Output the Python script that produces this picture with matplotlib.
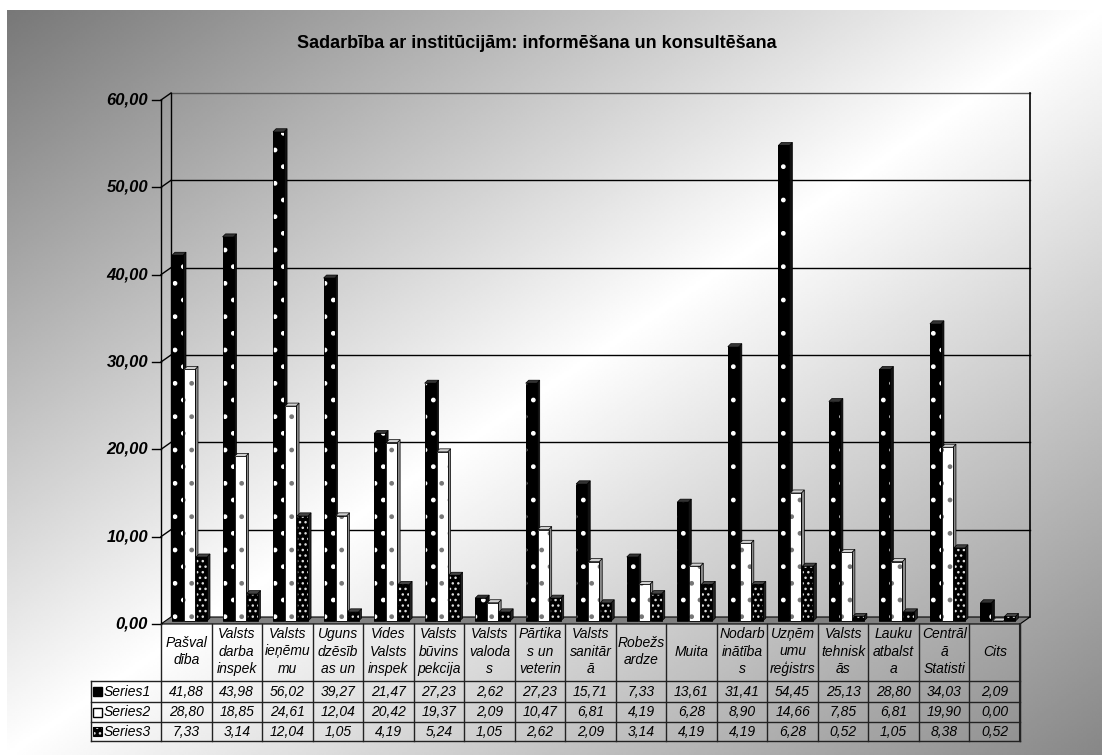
import matplotlib.pyplot as plt
import numpy as np
from matplotlib.patches import Polygon, Rectangle

title = "Sadarbība ar institūcijām: informēšana un konsultēšana"
categories = ["Pašval\ndība", "Valsts\ndarba\ninspek", "Valsts\nieņēmu\nmu",
              "Uguns\ndzēsīb\nas un", "Vides\nValsts\ninspek", "Valsts\nbūvins\npekcija",
              "Valsts\nvaloda\ns", "Pārtika\ns un\nveterin", "Valsts\nsanitār\nā",
              "Robežs\nardze", "Muita", "Nodarb\ninātība\ns", "Uzņēm\numu\nreģistrs",
              "Valsts\ntehnisk\nās", "Lauku\natbalst\na", "Centrāl\nā\nStatisti", "Cits"]
series_names = ["Series1", "Series2", "Series3"]
series1 = [41.88, 43.98, 56.02, 39.27, 21.47, 27.23, 2.62, 27.23, 15.71, 7.33,
           13.61, 31.41, 54.45, 25.13, 28.80, 34.03, 2.09]
series2 = [28.80, 18.85, 24.61, 12.04, 20.42, 19.37, 2.09, 10.47, 6.81, 4.19,
           6.28, 8.90, 14.66, 7.85, 6.81, 19.90, 0.00]
series3 = [7.33, 3.14, 12.04, 1.05, 4.19, 5.24, 1.05, 2.62, 2.09, 3.14,
           4.19, 4.19, 6.28, 0.52, 1.05, 8.38, 0.52]
yticks = [0, 10, 20, 30, 40, 50, 60]

plt.rcParams['font.family'] = ['Liberation Sans', 'DejaVu Sans']
plt.rcParams['hatch.linewidth'] = 1.0

W, H = 1102, 755
fig = plt.figure(figsize=(W / 100, H / 100), dpi=100)

# background gradient (dark corners top-left / bottom-right, light diagonal)
bg = fig.add_axes([7 / W, 0, 1 - 7 / W, 1 - 10 / H])
bg.set_axis_off()
X, Y = np.meshgrid(np.linspace(0, 1, 500), np.linspace(0, 1, 350))
u = X + Y
shade = np.where(u < 1, 0.47 + 0.53 * u, 1 - 0.47 * (u - 1))
bg.imshow(shade, cmap='gray', vmin=0, vmax=1, aspect='auto', interpolation='bilinear')

# main axes = plane of the bars
left, right, bot, top = 167, 1026, 621, 97
ax = fig.add_axes([left / W, 1 - bot / H, (right - left) / W, (bot - top) / H])
n = len(categories)
ax.set_xlim(0, n)
ax.set_ylim(0, 60)
ax.set_axis_off()
sx = n / (right - left)   # data units per pixel
sy = 60 / (bot - top)

bx, by = 4 * sx, 4 * sy      # back wall offset
fx, fy = -6 * sx, -3 * sy    # front edge offset

# back wall grid
for v in yticks[1:]:
    ax.plot([bx, n + bx], [v + by, v + by], color='#555555' if v == 60 else 'black',
            lw=1.0, clip_on=False, zorder=1)
    ax.plot([fx, bx], [v + fy, v + by], color='black', lw=1.0, clip_on=False, zorder=1)
ax.plot([bx, bx], [by, 60 + by], color='black', lw=1.0, clip_on=False, zorder=1)
ax.plot([n + bx, n + bx], [by, 60 + by], color='black', lw=1.2, clip_on=False, zorder=1)

# floor
floor = Polygon([(fx, fy), (n + fx, fy), (n + bx, by), (bx, by)], closed=True,
                facecolor='#808080', edgecolor='black', lw=0.8, clip_on=False, zorder=2)
ax.add_patch(floor)

# front value axis
ax.plot([fx, fx], [fy, 60 + fy], color='black', lw=1.0, clip_on=False, zorder=2)
for v in yticks:
    ax.plot([fx - 9 * sx, fx], [v + fy, v + fy], color='black', lw=1.0, clip_on=False)
    ax.text(fx - 13 * sx, v + fy, f"{v:.2f}".replace('.', ','), ha='right', va='center',
            fontsize=12, fontweight='bold', style='italic')

# bars with a little 3D depth
offsets = [5 * sx, 17 * sx, 29 * sx]
bw = 11 * sx
ddx, ddy = 3 * sx, 3 * sy
styles = [
    dict(face='black', hatch='.', hcol='white', side='#111111', top='#333333'),
    dict(face='white', hatch='.', hcol='#777777', side='#8a8a8a', top='#d0d0d0'),
    dict(face='black', hatch='...', hcol='#dddddd', side='#222222', top='#444444'),
]
for s, vals in enumerate([series1, series2, series3]):
    st = styles[s]
    z = 3 + s
    for i, v in enumerate(vals):
        x0 = i + offsets[s]
        ax.add_patch(Polygon([(x0 + bw, 0), (x0 + bw + ddx, ddy), (x0 + bw + ddx, v + ddy), (x0 + bw, v)],
                             closed=True, facecolor=st['side'], edgecolor='black', lw=0.5,
                             clip_on=False, zorder=z))
        ax.add_patch(Polygon([(x0, v), (x0 + bw, v), (x0 + bw + ddx, v + ddy), (x0 + ddx, v + ddy)],
                             closed=True, facecolor=st['top'], edgecolor='black', lw=0.5,
                             clip_on=False, zorder=z))
        ax.add_patch(Rectangle((x0, 0), bw, v, facecolor=st['face'], edgecolor=st['hcol'],
                               hatch=st['hatch'], lw=0, clip_on=False, zorder=z))
        ax.add_patch(Rectangle((x0, 0), bw, v, fill=False, edgecolor='black', lw=0.6,
                               clip_on=False, zorder=z))

fig.text(537 / W, 1 - 44 / H, title, ha='center', va='center', fontsize=13, fontweight='bold')

# data table below the chart
tab = fig.add_axes([0, 0, 1, 1])
tab.set_xlim(0, W)
tab.set_ylim(H, 0)
tab.set_axis_off()
xs = 161 + np.arange(n + 1) * (859 / n)
rows = [624, 681, 702, 722, 741]
lc = '#222222'
for x in xs:
    tab.plot([x, x], [rows[0], rows[-1]], color=lc, lw=1.0)
tab.plot([91, 91], [rows[1], rows[-1]], color=lc, lw=1.0)
for y in rows[1:]:
    tab.plot([91, xs[-1]], [y, y], color=lc, lw=1.0)
tab.plot([xs[-1], xs[-1]], [rows[0], rows[-1]], color=lc, lw=1.5)

for i, c in enumerate(categories):
    tab.text((xs[i] + xs[i + 1]) / 2, (rows[0] + rows[1]) / 2 - 1, c, ha='center', va='center',
             fontsize=10, style='italic', linespacing=1.3)

key_styles = [dict(fc='black', ec='black', hatch=None),
              dict(fc='white', ec='black', hatch=None),
              dict(fc='black', ec='#dddddd', hatch='...')]
for r, (name, vals) in enumerate(zip(series_names, [series1, series2, series3])):
    yc = (rows[r + 1] + rows[r + 2]) / 2
    ks = key_styles[r]
    tab.add_patch(Rectangle((93, yc - 4.5), 9, 9, facecolor=ks['fc'], edgecolor=ks['ec'],
                            hatch=ks['hatch'], lw=0 if ks['hatch'] else 1.0))
    if ks['hatch']:
        tab.add_patch(Rectangle((93, yc - 4.5), 9, 9, fill=False, edgecolor='black', lw=0.8))
    tab.text(104, yc, name, ha='left', va='center', fontsize=10, style='italic')
    for i, v in enumerate(vals):
        tab.text((xs[i] + xs[i + 1]) / 2, yc, f"{v:.2f}".replace('.', ','), ha='center',
                 va='center', fontsize=10, style='italic')

fig.savefig('out.png', dpi=100)
